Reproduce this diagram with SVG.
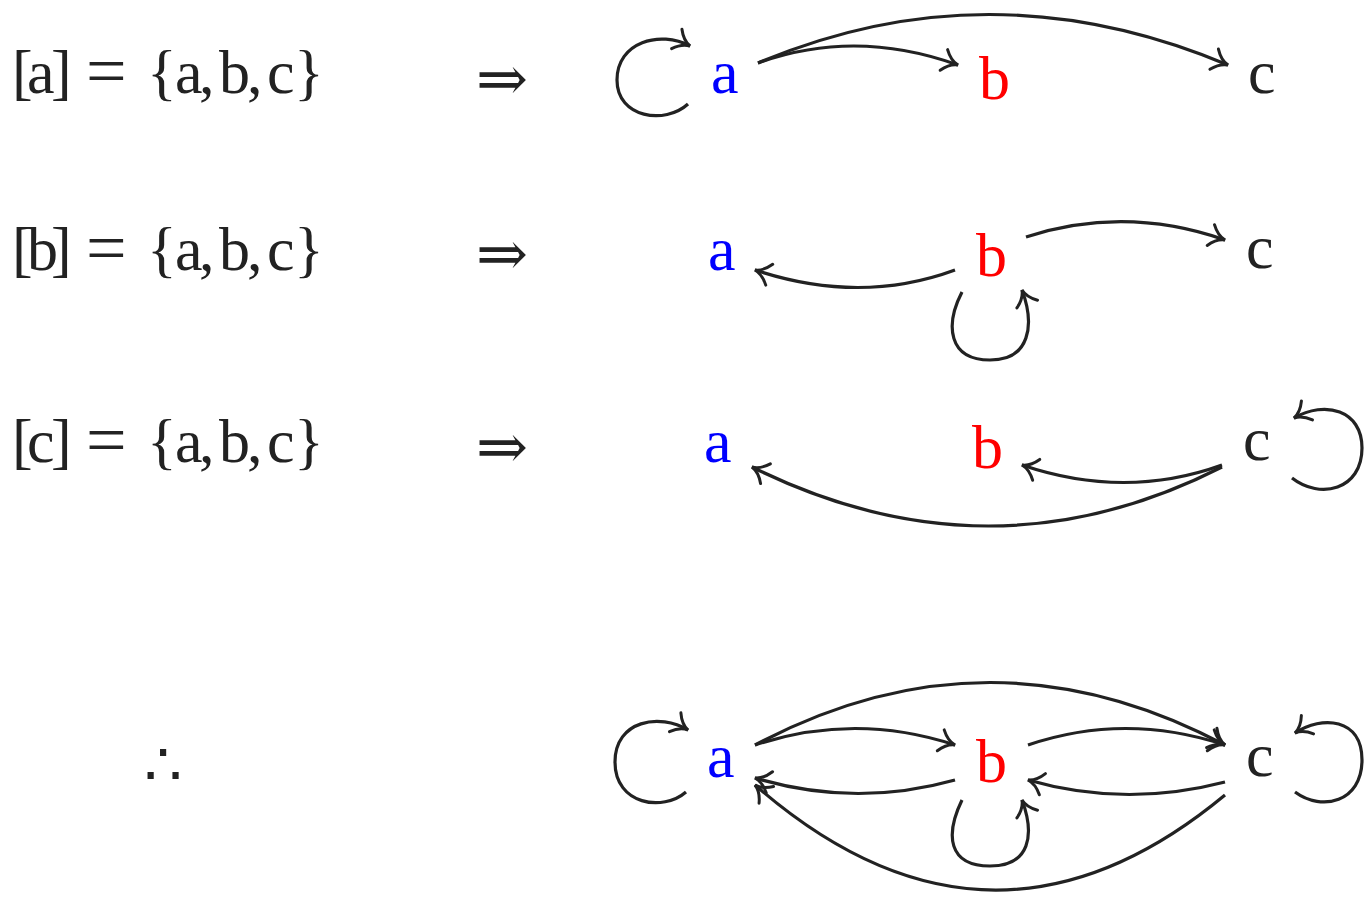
<svg xmlns="http://www.w3.org/2000/svg" width="1370" height="906" viewBox="0 0 1370 906">
<defs>
<style>
.t{font-family:"Liberation Serif","DejaVu Serif",serif;font-size:62px;fill:#222}
.eq{font-family:"Liberation Serif","DejaVu Serif",serif;font-size:72px;fill:#222}
.ar{font-family:"Liberation Serif","DejaVu Serif",serif;font-size:62px;fill:#222}
.th{font-family:"DejaVu Serif","Liberation Serif",serif;font-size:60px;fill:#222}
.na{fill:#0000ff}.nb{fill:#ff0000}.nc{fill:#222}
.e{fill:none;stroke:#222;stroke-width:3.2;marker-end:url(#h)}
</style>
<marker id="h" markerUnits="userSpaceOnUse" markerWidth="40" markerHeight="40" viewBox="-20 -20 40 40" refX="0" refY="0" orient="auto">
<path d="M -15 -11 C -10 -4 -5 -1 0 0 C -5 1 -10 4 -15 11" fill="none" stroke="#222" stroke-width="3" stroke-linecap="round"/>
</marker>
</defs>
<g id="left">
<text class="t" x="12 27 51" y="93">[a]</text>
<text class="eq" x="86" y="95">=</text>
<text class="t" x="147 175 199 219 247 267 294" y="93">{a,b,c}</text>
<text class="t" x="12 27 51" y="270">[b]</text>
<text class="eq" x="86" y="272">=</text>
<text class="t" x="147 175 199 219 247 267 294" y="270">{a,b,c}</text>
<text class="t" x="12 27 51" y="462">[c]</text>
<text class="eq" x="86" y="464">=</text>
<text class="t" x="147 175 199 219 247 267 294" y="462">{a,b,c}</text>
<text class="ar" x="476" y="100">⇒</text>
<text class="ar" x="476" y="275">⇒</text>
<text class="ar" x="476" y="468">⇒</text>
<text class="th" x="144" y="786">∴</text>
</g>
<g id="row1">
<g id="r1a"><text class="t na" x="711" y="93">a</text></g>
<g id="r1b"><text class="t nb" x="979" y="99">b</text></g>
<g id="r1c"><text class="t nc" x="1248" y="93">c</text></g>
</g>
<g id="row2">
<g id="r2a"><text class="t na" x="708" y="270">a</text></g>
<g id="r2b"><text class="t nb" x="976" y="276">b</text></g>
<g id="r2c"><text class="t nc" x="1246" y="268">c</text></g>
</g>
<g id="row3">
<g id="r3a"><text class="t na" x="704" y="462">a</text></g>
<g id="r3b"><text class="t nb" x="972" y="468">b</text></g>
<g id="r3c"><text class="t nc" x="1243" y="460">c</text></g>
</g>
<g id="row4">
<g id="r4a"><text class="t na" x="707" y="777">a</text></g>
<g id="r4b"><text class="t nb" x="976" y="782">b</text></g>
<g id="r4c"><text class="t nc" x="1246" y="776">c</text></g>
</g>
<g id="connectors">
<path class="e" d="M 688 104 C 665 125 617 118 617 80 C 617 42 660 30 690 46"/>
<path class="e" d="M 758 63 Q 855 28 958 65"/>
<path class="e" d="M 758 63 Q 990 -35 1228 65"/>
<path class="e" d="M 955 270 Q 860 305 755 270"/>
<path class="e" d="M 1026 237 Q 1125 205 1225 240"/>
<path class="e" d="M 962 292 C 945 325 948 360 990 360 C 1030 360 1035 325 1022 290"/>
<path class="e" d="M 1222 465 Q 1125 500 1022 465"/>
<path class="e" d="M 1222 467 Q 990 585 752 467"/>
<path class="e" d="M 1292 478 C 1320 500 1362 490 1362 448 C 1362 410 1325 400 1294 418"/>
<path class="e" d="M 686 792 C 663 812 615 805 615 762 C 615 720 660 713 688 730"/>
<path class="e" d="M 755 745 Q 855 712 955 745"/>
<path class="e" d="M 755 745 Q 990 620 1225 745"/>
<path class="e" d="M 1028 745 Q 1125 712 1225 745"/>
<path class="e" d="M 1225 782 Q 1125 808 1028 780"/>
<path class="e" d="M 955 780 Q 855 808 755 778"/>
<path class="e" d="M 1225 795 Q 990 990 755 785"/>
<path class="e" d="M 962 800 C 945 835 948 866 990 866 C 1030 866 1035 835 1022 800"/>
<path class="e" d="M 1295 792 C 1322 812 1362 802 1362 760 C 1362 718 1322 715 1295 733"/>
</g>
</svg>
